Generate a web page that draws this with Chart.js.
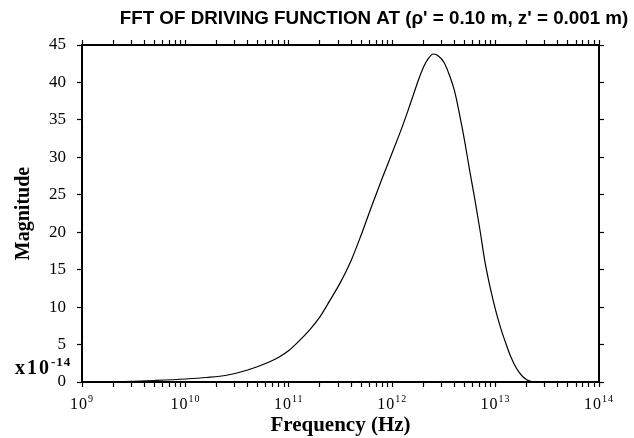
<!DOCTYPE html>
<html lang="en">
<head>
<meta charset="UTF-8">
<title>FFT of driving function</title>
<script src="https://cdn.jsdelivr.net/npm/chart.js@4.4.1/dist/chart.umd.min.js"></script>
<style>
  html, body { margin: 0; padding: 0; background: #fff; }
  #wrap { width: 634px; height: 438px; }
</style>
</head>
<body>
<div id="wrap"><canvas id="chart" width="634" height="438"></canvas></div>
<script>
    // frequency (Hz) and magnitude (x10^-14)
    const freqHz = [1e9, 2e9, 3.2e9, 5e9, 1e10, 1.6e10, 2.5e10, 4e10, 6.3e10, 8e10,
        1e11, 1.26e11, 1.6e11, 2e11, 2.5e11, 3.16e11, 4e11, 5e11, 6.3e11, 8e11,
        1e12, 1.26e12, 1.41e12, 1.58e12, 1.78e12, 2e12, 2.24e12, 2.5e12, 2.82e12, 3.16e12,
        3.55e12, 4e12, 4.47e12, 5e12, 5.62e12, 6.3e12, 7.08e12, 7.9e12, 8.9e12, 1e13,
        1.12e13, 1.26e13, 1.41e13, 1.58e13, 1.78e13, 2e13, 2.24e13, 2.5e13, 1e14];
    const magnitude = [0, 0.02, 0.1, 0.2, 0.4, 0.6, 0.9, 1.6, 2.6, 3.3,
        4.2, 5.5, 7.0, 8.7, 10.9, 13.3, 16.2, 19.6, 23.4, 27.2,
        30.6, 34.2, 36.1, 38.1, 40.2, 42.0, 43.2, 43.8, 43.5, 42.7,
        41.1, 38.9, 35.8, 32.3, 28.2, 24.4, 20.2, 16.0, 12.5, 9.6,
        7.2, 5.1, 3.3, 1.9, 0.9, 0.3, 0.05, 0, 0];

    const decades = [9, 10, 11, 12, 13, 14];
    const yTicks = [0, 5, 10, 15, 20, 25, 30, 35, 40, 45];

    const titleText = "FFT OF DRIVING FUNCTION AT (\u03c1' = 0.10 m, z' = 0.001 m)";
    const xTitle = 'Frequency (Hz)';
    const yTitle = 'Magnitude';

    // decade ticks plus the 2..9 minor ones
    function logTicks(scale) {
        const t = [];
        for (let e = decades[0]; e < decades[decades.length - 1]; e++) {
            for (let m = 1; m < 10; m++) t.push({ value: m * Math.pow(10, e) });
        }
        t.push({ value: Math.pow(10, decades[decades.length - 1]) });
        scale.ticks = t;
    }

    // title, the x10^-14 factor and the 10^n labels with real superscripts
    const extraText = {
        id: 'extraText',
        afterDraw(chart) {
            const ctx = chart.ctx;
            ctx.save();
            ctx.fillStyle = '#000';
            ctx.font = 'bold 18.8px "Liberation Sans", Arial, sans-serif';
            ctx.textAlign = 'center';
            ctx.textBaseline = 'alphabetic';
            ctx.fillText(titleText, 374, 24);

            ctx.textAlign = 'left';
            ctx.letterSpacing = '2px';
            ctx.font = 'bold 20px "Liberation Serif", serif';
            ctx.fillText('x10', 15, 374);
            const w = ctx.measureText('x10').width;
            ctx.letterSpacing = '1px';
            ctx.font = 'bold 13px "Liberation Serif", serif';
            ctx.fillText('-14', 15 + w, 366);

            // x tick labels
            const xs = chart.scales.x;
            decades.forEach(e => {
                const px = xs.getPixelForValue(Math.pow(10, e));
                ctx.letterSpacing = '1px';
                ctx.font = '16px "Liberation Serif", serif';
                const wb = ctx.measureText('10').width;
                ctx.font = '10px "Liberation Serif", serif';
                const we = ctx.measureText(String(e)).width;
                const x0 = px - (wb + we) / 2;
                ctx.font = '16px "Liberation Serif", serif';
                ctx.fillText('10', x0, 409);
                ctx.font = '10px "Liberation Serif", serif';
                ctx.fillText(String(e), x0 + wb, 402);
            });
            ctx.restore();
        }
    };

    const ctx = document.getElementById('chart').getContext('2d');
    const axisBorder = { display: true, color: '#000', width: 2 };
    const tickGrid = { drawOnChartArea: false, drawTicks: true, tickLength: 5, tickColor: '#000', tickWidth: 1.2 };

    new Chart(ctx, {
        type: 'line',
        data: {
            datasets: [{
                data: freqHz.map((f, i) => ({ x: f, y: magnitude[i] })),
                borderColor: '#000',
                borderWidth: 1.2,
                pointRadius: 0,
                fill: false,
                cubicInterpolationMode: 'monotone',
                xAxisID: 'x',
                yAxisID: 'y'
            }]
        },
        options: {
            responsive: false,
            animation: false,
            layout: { padding: { top: 28, left: 0, right: 0, bottom: 0 } },
            plugins: {
                legend: { display: false },
                tooltip: { enabled: false },
                title: { display: false }
            },
            scales: {
                x: {
                    type: 'logarithmic',
                    position: 'bottom',
                    min: 1e9,
                    max: 1e14,
                    afterBuildTicks: logTicks,
                    afterFit: s => { s.height = 56; },
                    border: axisBorder,
                    grid: tickGrid,
                    ticks: {
                        autoSkip: false,
                        maxRotation: 0,
                        padding: 6,
                        font: { family: '"Liberation Serif", serif', size: 16 },
                        callback: () => ''
                    },
                    title: {
                        display: true,
                        text: xTitle,
                        color: '#000',
                        font: { family: '"Liberation Serif", serif', size: 21, weight: 'bold' },
                        padding: { top: 0, bottom: 0 }
                    }
                },
                x2: {
                    type: 'logarithmic',
                    position: 'top',
                    min: 1e9,
                    max: 1e14,
                    afterBuildTicks: logTicks,
                    afterFit: s => { s.height = 17; },
                    border: axisBorder,
                    grid: tickGrid,
                    ticks: { display: false, autoSkip: false }
                },
                y: {
                    position: 'left',
                    min: 0,
                    max: 45,
                    afterBuildTicks: s => { s.ticks = yTicks.map(v => ({ value: v })); },
                    afterFit: s => { s.width = 82; },
                    border: axisBorder,
                    grid: tickGrid,
                    ticks: {
                        padding: 11,
                        color: '#000',
                        font: { family: '"Liberation Serif", serif', size: 17 }
                    },
                    title: {
                        display: true,
                        text: yTitle,
                        color: '#000',
                        font: { family: '"Liberation Serif", serif', size: 20, weight: 'bold' },
                        padding: { top: 12, bottom: 0 }
                    }
                },
                y2: {
                    position: 'right',
                    min: 0,
                    max: 45,
                    afterBuildTicks: s => { s.ticks = yTicks.map(v => ({ value: v })); },
                    afterFit: s => { s.width = 35; },
                    border: axisBorder,
                    grid: tickGrid,
                    ticks: { display: false }
                }
            }
        },
        plugins: [extraText]
    });
</script>
</body>
</html>
